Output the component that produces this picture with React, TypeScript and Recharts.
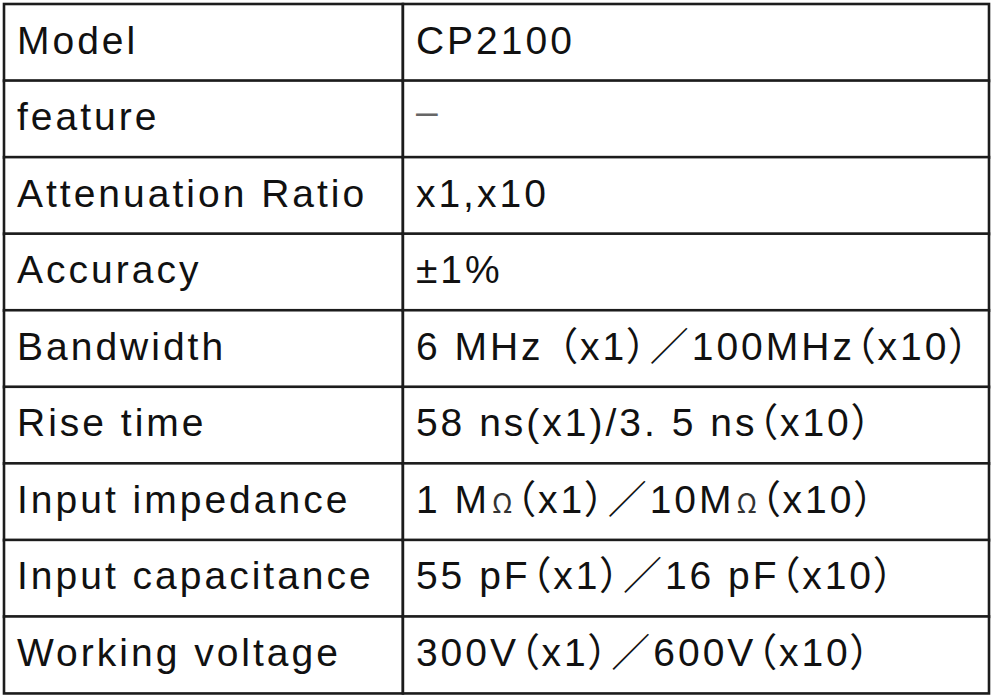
import { Bar, BarChart, XAxis, YAxis } from 'recharts'

// spec sheet rows
const fields = [
  'Model',
  'feature',
  'Attenuation Ratio',
  'Accuracy',
  'Bandwidth',
  'Rise time',
  'Input impedance',
  'Input capacitance',
  'Working voltage',
]

const specs = [
  'CP2100',
  '–',
  'x1,x10',
  '±1%',
  '6 MHz （x1）／100MHz（x10）',
  '58 ns(x1)/3. 5 ns（x10）',
  '1 MΩ（x1）／10MΩ（x10）',
  '55 pF（x1）／16 pF（x10）',
  '300V（x1）／600V（x10）',
]

// share of the table width taken by the first column
const SPLIT = 0.405

const rows = fields.map((f, i) => ({
  field: f,
  spec: specs[i],
  left: SPLIT,
  right: 1 - SPLIT,
}))

const LATIN = '"Liberation Sans", Arial, sans-serif'
const CJK = '"Noto Sans CJK SC", sans-serif'

// full-width punctuation comes from the CJK font, Ω is drawn small like on the sheet
function runs(s: string) {
  return s.split(/([（）／Ω])/).filter(Boolean).map((part, i) => {
    if (part === 'Ω') {
      return (
        <tspan key={i} fontFamily={CJK} fontSize={27} fill="#333" dx={2}>
          {part}
        </tspan>
      )
    }
    if (/[（）／]/.test(part)) {
      return (
        <tspan key={i} fontFamily={CJK} style={{ fontFeatureSettings: '"palt"' }}>
          {part}
        </tspan>
      )
    }
    return <tspan key={i}>{part}</tspan>
  })
}

function Cell(props: any, key: 'field' | 'spec') {
  const { x, y, width, height, payload } = props
  const txt: string = payload[key]
  const isDash = txt === '–'
  return (
    <g>
      <rect x={x} y={y} width={width} height={height} fill="#fff" stroke="#1c1c1c" strokeWidth={2.6} />
      <text
        x={x + 13}
        y={y + height / 2 + (isDash ? 6 : 11)}
        fontSize={39}
        fontFamily={LATIN}
        letterSpacing={isDash ? 0 : 3}
        fill={isDash ? '#666' : '#111'}
        style={{ whiteSpace: 'pre' }}
      >
        {runs(txt)}
      </text>
    </g>
  )
}

export default function App() {
  return (
    <div style={{ position: 'fixed', left: 0, top: 0, width: 993, height: 698, background: '#fff' }}>
      <BarChart
        width={993}
        height={698}
        data={rows}
        layout="vertical"
        margin={{ top: 4, right: 4, bottom: 5, left: 4 }}
        barCategoryGap={0}
        barGap={0}
      >
        <XAxis type="number" domain={[0, 1]} hide />
        <YAxis type="category" dataKey="field" hide />
        <Bar dataKey="left" stackId="t" isAnimationActive={false} shape={(p: any) => Cell(p, 'field')} />
        <Bar dataKey="right" stackId="t" isAnimationActive={false} shape={(p: any) => Cell(p, 'spec')} />
      </BarChart>
    </div>
  )
}
